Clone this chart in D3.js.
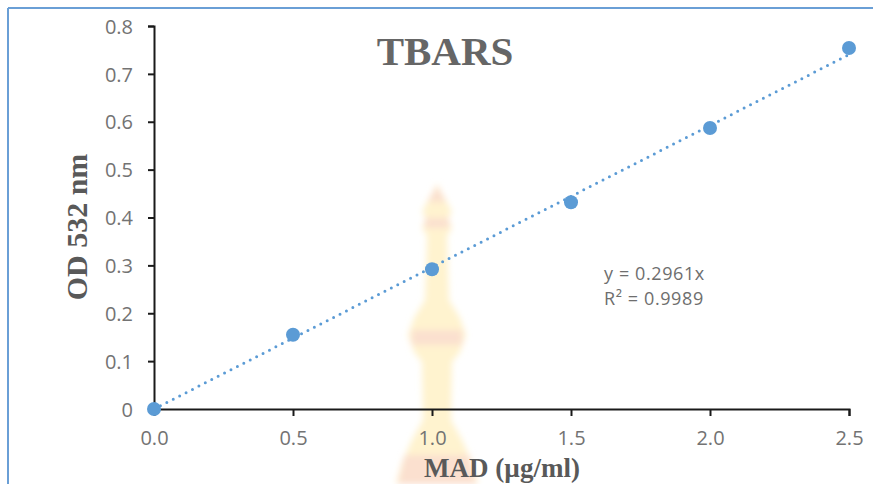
<!DOCTYPE html>
<html>
<head>
<meta charset="utf-8">
<script src="https://cdn.jsdelivr.net/npm/d3@7/dist/d3.min.js"></script>
<style>
  html, body { margin: 0; padding: 0; background: #fff; }
  svg { display: block; }
</style>
</head>
<body>
<div id="chart"></div>
<script>
// MAD standard curve for the TBARS assay
const concentrations = [0, 0.5, 1.0, 1.5, 2.0, 2.5];      // MAD (µg/ml)
const absorbance     = [0, 0.155, 0.292, 0.432, 0.587, 0.754]; // OD 532 nm
const xTicks = [0, 0.5, 1.0, 1.5, 2.0, 2.5];
const yTicks = [0, 0.1, 0.2, 0.3, 0.4, 0.5, 0.6, 0.7, 0.8];
const slope = 0.2961;
const rSquared = "0.9989";

const W = 873, H = 484;
const svg = d3.select("#chart").append("svg").attr("width", W).attr("height", H);

const x = d3.scaleLinear().domain([0, 2.5]).range([154, 849]);
const y = d3.scaleLinear().domain([0, 0.8]).range([409, 26]);

// faint backdrop emblem
const defs = svg.append("defs");
defs.append("filter").attr("id", "soft")
  .attr("x", "-20%").attr("y", "-10%").attr("width", "140%").attr("height", "120%")
  .append("feGaussianBlur").attr("stdDeviation", 3);
const emb = svg.append("g").attr("filter", "url(#soft)");
emb.append("path")
  .attr("d", "M437,184 L447,202 L452,212 L448,218 L452,228 L447,236 L449,300 L460,318 L466,335 L460,352 L452,362 L451,420 L462,440 L472,462 L478,484 L396,484 L402,462 L412,440 L423,420 L422,362 L414,352 L408,335 L414,318 L425,300 L427,236 L422,228 L426,218 L422,212 L427,202 Z")
  .attr("fill", "#fff3cf");
emb.append("path")
  .attr("d", "M437,186 L446,202 L428,202 Z M425,218 L449,218 L449,228 L425,228 Z M412,330 L462,330 L462,345 L412,345 Z M405,455 L469,455 L476,484 L398,484 Z")
  .attr("fill", "#fbe0cf");

// chart frame (top and left edges)
svg.append("line").attr("x1", 8).attr("x2", W).attr("y1", 8).attr("y2", 8)
  .attr("stroke", "#6a9fd6").attr("stroke-width", 2);
svg.append("line").attr("x1", 8).attr("x2", 8).attr("y1", 8).attr("y2", H)
  .attr("stroke", "#6a9fd6").attr("stroke-width", 2);

const tickFont = "'Open Sans', sans-serif";

// y axis
const yAxis = svg.append("g").attr("transform", `translate(${x(0)},0)`)
  .call(d3.axisLeft(y).tickValues(yTicks).tickSize(6).tickPadding(15)
    .tickFormat(d => d === 0 ? "0" : d3.format(".1f")(d)));
// x axis
const xAxis = svg.append("g").attr("transform", `translate(0,${y(0)})`)
  .call(d3.axisBottom(x).tickValues(xTicks).tickSize(7).tickPadding(15)
    .tickFormat(d3.format(".1f")));

[yAxis, xAxis].forEach(g => {
  g.select(".domain").attr("stroke", "#1a1a1a").attr("stroke-width", 2);
  g.selectAll(".tick line").attr("stroke", "#1a1a1a").attr("stroke-width", 2);
  g.selectAll(".tick text").attr("fill", "#737373")
    .style("font-family", tickFont).style("font-size", "20px");
});
xAxis.selectAll(".tick line").filter(d => d === 0).remove();
yAxis.selectAll(".tick line").filter(d => d === 0).remove();
yAxis.selectAll(".tick text").attr("dy", "0.36em");

// linear trendline through the origin
svg.append("line")
  .attr("x1", x(0)).attr("y1", y(0))
  .attr("x2", x(2.5)).attr("y2", y(slope * 2.5))
  .attr("stroke", "#5b9bd5").attr("stroke-width", 3)
  .attr("stroke-linecap", "round").attr("stroke-dasharray", "0,7.2");

// measured points
svg.append("g").selectAll("circle")
  .data(concentrations.map((c, i) => [c, absorbance[i]]))
  .join("circle")
  .attr("cx", d => x(d[0])).attr("cy", d => y(d[1])).attr("r", 7)
  .attr("fill", "#5b9bd5");

// regression label
const eq = svg.append("text").attr("x", 604).attr("fill", "#6e6e6e")
  .style("font-family", tickFont).style("font-size", "18px").style("letter-spacing", "0.6px");
eq.append("tspan").attr("x", 604).attr("y", 280).text(`y = ${slope}x`);
eq.append("tspan").attr("x", 604).attr("y", 305).text(`R² = ${rSquared}`);

// titles
const serif = "'Liberation Serif', 'Times New Roman', serif";
svg.append("text").attr("x", 445).attr("y", 65).attr("text-anchor", "middle")
  .attr("fill", "#666").style("font-family", serif).style("font-weight", "bold")
  .style("font-size", "41px").text("TBARS");
svg.append("text").attr("x", 502).attr("y", 477).attr("text-anchor", "middle")
  .attr("fill", "#595959").style("font-family", serif).style("font-weight", "bold")
  .style("font-size", "27px").text("MAD (µg/ml)");
svg.append("text").attr("transform", "translate(87,227) rotate(-90)").attr("text-anchor", "middle")
  .attr("fill", "#595959").style("font-family", serif).style("font-weight", "bold")
  .style("font-size", "30px").text("OD 532 nm");
</script>
</body>
</html>
